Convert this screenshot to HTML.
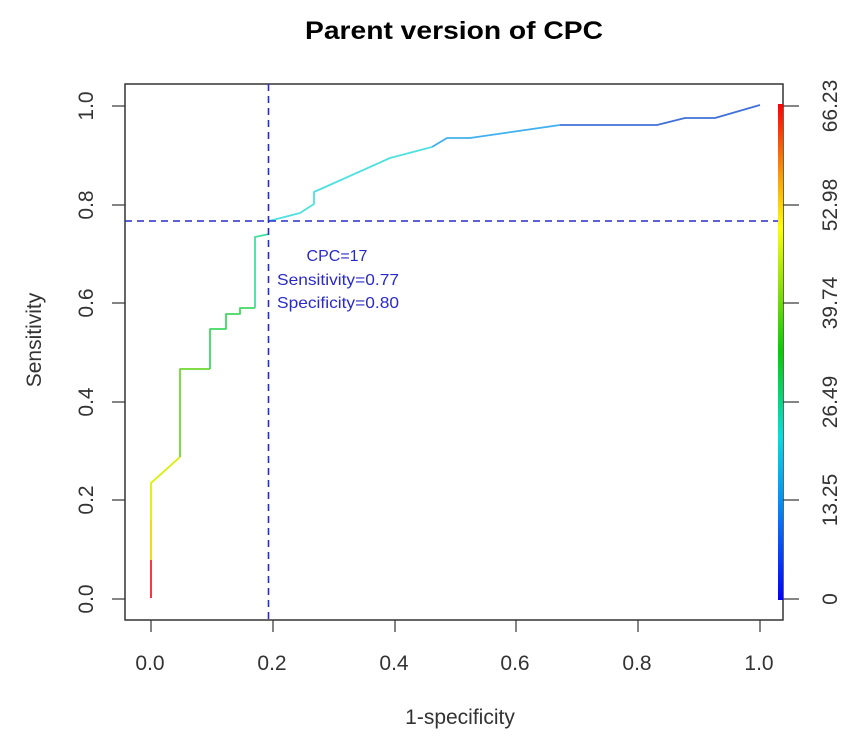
<!DOCTYPE html>
<html><head><style>body{margin:0;background:#fff}svg{display:block}</style></head><body>
<svg width="850" height="738" viewBox="0 0 850 738" xmlns="http://www.w3.org/2000/svg" font-family="Liberation Sans, sans-serif">
<defs>
<linearGradient id="cb" x1="0" y1="1" x2="0" y2="0">
<stop offset="0" stop-color="#0000ff"/><stop offset="0.2" stop-color="#0090ff"/><stop offset="0.33" stop-color="#00e0e0"/><stop offset="0.5" stop-color="#00d000"/><stop offset="0.62" stop-color="#80e000"/><stop offset="0.75" stop-color="#ffff00"/><stop offset="0.85" stop-color="#ffa000"/><stop offset="1" stop-color="#ff0000"/>
</linearGradient>
</defs>
<rect width="850" height="738" fill="#fff"/>
<text x="305" y="39" font-size="25" font-weight="bold" textLength="298" lengthAdjust="spacingAndGlyphs">Parent version of CPC</text>
<rect x="125" y="84" width="658" height="536" fill="none" stroke="#333" stroke-width="1.5"/>
<g stroke="#333" stroke-width="1.2">
<line x1="151" y1="620" x2="151" y2="632"/><line x1="273" y1="620" x2="273" y2="632"/><line x1="395" y1="620" x2="395" y2="632"/><line x1="516" y1="620" x2="516" y2="632"/><line x1="638" y1="620" x2="638" y2="632"/><line x1="760" y1="620" x2="760" y2="632"/>
<line x1="112" y1="599" x2="125" y2="599"/><line x1="112" y1="500" x2="125" y2="500"/><line x1="112" y1="402" x2="125" y2="402"/><line x1="112" y1="303" x2="125" y2="303"/><line x1="112" y1="205" x2="125" y2="205"/><line x1="112" y1="106" x2="125" y2="106"/>
<line x1="783" y1="106" x2="799" y2="106"/><line x1="783" y1="205" x2="799" y2="205"/><line x1="783" y1="303" x2="799" y2="303"/><line x1="783" y1="402" x2="799" y2="402"/><line x1="783" y1="500" x2="799" y2="500"/><line x1="783" y1="599" x2="799" y2="599"/>
</g>
<g font-size="21" fill="#333" text-anchor="middle">
<text x="150" y="670">0.0</text><text x="272" y="670">0.2</text><text x="394" y="670">0.4</text><text x="515" y="670">0.6</text><text x="637" y="670">0.8</text><text x="759" y="670">1.0</text>
<text x="460" y="724">1-specificity</text>
<text transform="translate(93,599) rotate(-90)">0.0</text><text transform="translate(93,500) rotate(-90)">0.2</text><text transform="translate(93,402) rotate(-90)">0.4</text><text transform="translate(93,303) rotate(-90)">0.6</text><text transform="translate(93,205) rotate(-90)">0.8</text><text transform="translate(93,106) rotate(-90)">1.0</text>
<text transform="translate(41,340) rotate(-90)">Sensitivity</text>
<text transform="translate(837,106) rotate(-90)">66.23</text><text transform="translate(837,205) rotate(-90)">52.98</text><text transform="translate(837,303) rotate(-90)">39.74</text><text transform="translate(837,402) rotate(-90)">26.49</text><text transform="translate(837,500) rotate(-90)">13.25</text><text transform="translate(837,599) rotate(-90)">0</text>
</g>
<rect x="778" y="104" width="5" height="496" fill="url(#cb)"/>
<g fill="none" stroke-width="1.8" stroke-linejoin="round">
<polyline stroke="#ff2020" points="151,598 151,560"/>
<polyline stroke="#ffd000" points="151,560 151,520"/>
<polyline stroke="#d8f000" points="151,520 151,483 180,457"/>
<polyline stroke="#70d830" points="180,457 180,369 210,369"/>
<polyline stroke="#40d860" points="210,369 210,329 226,329 226,314 240,314 240,308 255,308"/>
<polyline stroke="#40e0a0" points="255,308 255,237 269,234"/>
<polyline stroke="#50e0e0" points="269,221 300,213 314,204 314,192 390,158 432,147"/>
<polyline stroke="#40b0ee" points="432,147 447,138 470,138 560,125"/>
<polyline stroke="#4070d8" points="560,125 657,125 685,118 715,118 760,105"/>
</g>
<g stroke="#2a2acc" stroke-width="1.6" stroke-dasharray="7,5">
<line x1="268.5" y1="84" x2="268.5" y2="620"/>
<line x1="125" y1="221" x2="778" y2="221"/>
</g>
<g font-size="16" fill="#2a2acc">
<text x="337" y="261" text-anchor="middle">CPC=17</text>
<text x="277" y="285" textLength="122" lengthAdjust="spacingAndGlyphs">Sensitivity=0.77</text>
<text x="277" y="308" textLength="122" lengthAdjust="spacingAndGlyphs">Specificity=0.80</text>
</g>
</svg>
</body></html>
